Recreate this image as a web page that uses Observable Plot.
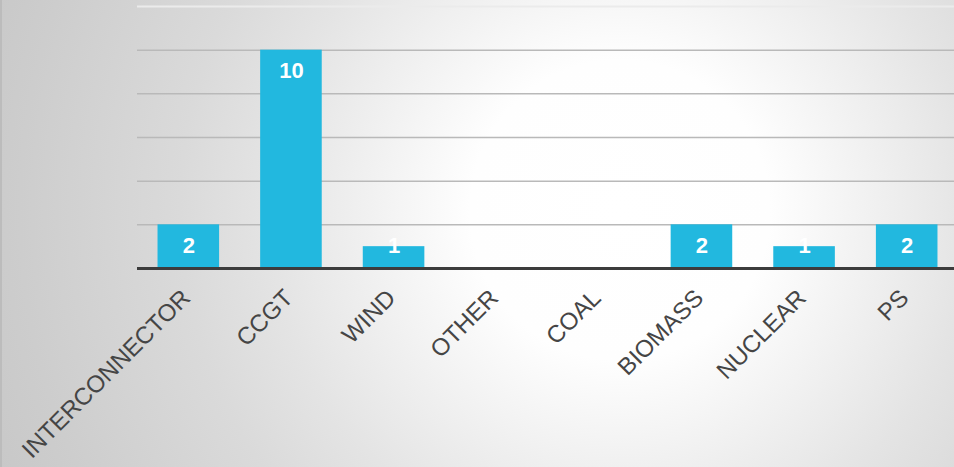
<!DOCTYPE html>
<html>
<head>
<meta charset="utf-8">
<script src="https://cdn.jsdelivr.net/npm/d3@7"></script>
<script src="https://cdn.jsdelivr.net/npm/@observablehq/plot@0.6"></script>
<style>
  html, body { margin: 0; padding: 0; }
  body { width: 954px; height: 467px; overflow: hidden; font-family: "Liberation Sans", Arial, sans-serif; }
  #chart {
    width: 954px;
    height: 467px;
    background: radial-gradient(circle at 620px 210px, #ffffff 0px, #fefefe 150px, #e4e4e4 350px, #dadada 440px, #cdcdcd 600px, #c6c6c6 700px);
    box-shadow: inset 2px 0 0 #bcbcbc;
  }
  #chart svg { display: block; }
</style>
</head>
<body>
<div id="chart"></div>
<script>
const categories = ["INTERCONNECTOR", "CCGT", "WIND", "OTHER", "COAL", "BIOMASS", "NUCLEAR", "PS"];
const values = [2, 10, 1, 0, 0, 2, 1, 2];
const gridTicks = [2, 4, 6, 8, 10];
const topTick = [12];

const data = categories.map((c, i) => ({category: c, value: values[i]}));
const labelled = data.filter(d => d.value > 0);

const chart = Plot.plot({
  width: 954,
  height: 467,
  marginTop: 6,
  marginBottom: 199,
  marginLeft: 137,
  marginRight: 0,
  style: {background: "transparent", fontFamily: "'Liberation Sans', Arial, sans-serif"},
  x: {type: "band", domain: categories, range: [137, 958], paddingInner: 0.4, paddingOuter: 0.2, round: false, axis: null},
  y: {domain: [0, 12], axis: null},
  marks: [
    Plot.ruleY(topTick, {stroke: "#ebebeb", strokeWidth: 2}),
    Plot.ruleY(gridTicks, {stroke: "#b9b9b9", strokeWidth: 1.5}),
    Plot.barY(data, {x: "category", y: "value", fill: "#22b8df"}),
    Plot.text(labelled, {
      x: "category",
      y: d => Math.max(d.value, 2),
      text: d => String(d.value),
      dy: 21,
      fill: "white",
      fontSize: 22,
      fontWeight: "bold"
    }),
    Plot.ruleY([0], {stroke: "#3c3c3c", strokeWidth: 3}),
    Plot.text(categories, {
      x: d => d,
      y: 0,
      text: d => d,
      rotate: -45,
      textAnchor: "end",
      lineAnchor: "bottom",
      dx: 3,
      dy: 31,
      fontSize: 24,
      fill: "#454545"
    })
  ]
});
document.getElementById("chart").appendChild(chart);
</script>
</body>
</html>
